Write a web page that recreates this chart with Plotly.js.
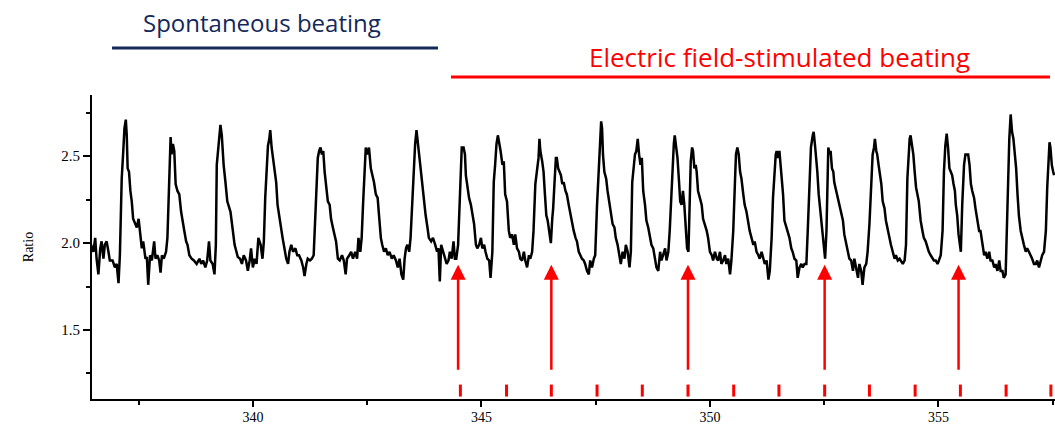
<!DOCTYPE html>
<html>
<head>
<meta charset="utf-8">
<script src="https://cdn.plot.ly/plotly-3.0.1.min.js"></script>
<style>
  html, body { margin: 0; padding: 0; background: #ffffff; }
  #chart { width: 1055px; height: 425px; }
</style>
</head>
<body>
<div id="chart"></div>
<script>
// ---- Data ----
// Time (s) of each sample of the Fura-2 ratio trace
const time = [
  336.46,336.51,336.55,336.58,336.62,336.66,336.69,336.73,336.76,336.80,
  336.84,336.87,336.93,336.98,337.02,337.06,337.09,337.13,337.16,337.19,
  337.22,337.24,337.26,337.29,337.32,337.35,337.38,337.42,337.46,337.50,
  337.53,337.57,337.60,337.65,337.68,337.71,337.75,337.79,337.84,337.87,
  337.91,337.95,337.98,338.01,338.05,338.10,338.13,338.16,338.19,338.20,
  338.22,338.25,338.28,338.31,338.35,338.39,338.43,338.46,338.50,338.54,
  338.57,338.61,338.66,338.71,338.77,338.83,338.87,338.91,338.96,339.00,
  339.04,339.07,339.12,339.16,339.19,339.21,339.25,339.29,339.32,339.36,
  339.40,339.44,
  339.51,339.56,339.60,339.64,339.67,339.72,339.76,339.80,339.85,339.89,
  339.93,339.96,340.00,340.04,340.08,340.12,340.17,340.21,340.24,340.27,
  340.30,340.33,340.36,340.38,340.41,340.44,340.47,340.51,340.54,340.58,
  340.61,340.65,340.69,340.73,340.77,340.80,340.84,340.88,340.93,340.97,
  341.01,341.06,341.10,341.13,341.17,341.20,341.25,341.29,341.33,341.36,
  341.39,341.42,341.45,341.48,341.51,341.54,341.57,341.61,341.64,341.68,
  341.71,341.75,341.79,341.82,341.86,341.90,341.95,341.99,342.03,342.06,
  342.11,342.15,342.19,342.24,342.28,342.31,342.35,342.38,342.41,342.44,
  342.47,342.51,342.54,342.58,342.62,342.65,342.69,342.73,342.76,342.80,
  342.83,342.87,342.91,342.95,342.99,343.04,343.08,343.13,343.17,343.21,
  343.25,343.29,343.32,343.35,343.38,343.42,343.45,343.49,343.52,343.55,
  343.58,343.60,343.62,343.65,343.68,343.71,343.75,343.78,343.82,343.85,
  343.90,343.94,343.99,344.03,344.06,344.09,344.12,344.16,344.20,344.24,
  344.28,344.31,344.35,344.39,344.42,344.45,344.49,344.53,344.55,344.57,
  344.61,344.64,344.66,344.69,344.73,344.77,344.80,344.84,344.88,344.91,
  344.95,344.99,345.02,345.06,345.09,345.13,345.17,345.20,345.24,345.27,
  345.30,345.33,345.36,345.39,345.42,345.46,
  345.49,345.52,345.56,345.60,345.63,345.67,345.71,345.74,345.78,345.82,
  345.85,345.89,345.93,345.96,346.00,346.04,346.07,346.11,346.14,346.18,
  346.22,346.25,346.27,346.29,346.33,346.36,346.39,346.42,346.45,346.49,
  346.52,346.55,346.57,346.60,346.63,346.65,346.68,346.71,346.74,346.77,
  346.80,346.84,346.87,346.91,346.95,346.98,347.02,347.06,347.09,347.13,
  347.16,347.20,347.24,347.27,347.31,347.35,347.38,347.42,347.46,347.49,
  347.53,347.57,347.59,347.62,347.64,347.66,347.69,347.73,347.76,347.80,
  347.83,347.87,347.91,347.94,347.98,348.02,348.05,348.09,348.13,348.16,
  348.20,348.24,348.27,348.30,348.33,348.36,348.39,348.42,348.45,348.48,
  348.51,348.54,348.58,348.61,348.65,348.69,348.72,348.76,348.80,348.83,
  348.87,348.91,348.94,348.98,349.02,349.05,349.09,349.12,349.16,349.19,
  349.21,349.23,349.26,349.29,349.32,349.35,349.38,349.41,349.44,349.47,
  349.50,349.53,349.55,349.58,349.61,349.63,349.66,349.69,349.71,349.74,
  349.78,349.82,349.85,349.89,349.93,349.96,350.00,350.04,350.07,350.11,
  350.15,350.18,350.22,350.25,350.29,350.33,350.36,350.40,350.44,350.47,
  350.51,350.55,350.57,350.60,350.63,350.66,350.69,350.73,350.76,350.80,
  350.84,350.87,350.91,350.95,350.98,351.02,351.06,351.09,351.13,351.17,
  351.20,351.24,351.28,351.31,351.35,351.38,351.41,351.44,351.46,351.49,
  351.52,351.56,351.60,351.63,351.67,351.70,351.74,351.78,351.81,351.85,
  351.89,351.92,351.96,352.00,352.03,352.07,352.11,352.14,352.18,352.21,
  352.25,352.27,352.30,352.32,352.35,352.38,352.41,352.44,352.47,352.50,
  352.52,352.55,352.57,352.59,352.62,352.64,352.67,352.70,352.72,352.76,
  352.80,352.83,352.87,352.91,352.94,352.98,353.02,353.05,353.09,353.13,
  353.16,353.20,353.24,353.27,353.31,353.34,353.38,353.42,353.45,353.49,
  353.53,353.56,353.59,353.61,353.64,353.66,353.69,353.72,353.75,353.78,
  353.82,353.85,353.89,353.93,353.96,354.00,354.04,354.07,354.11,354.15,
  354.18,354.22,354.26,354.29,354.32,354.35,354.37,354.39,354.42,354.45,
  354.48,354.51,
  354.57,354.61,354.65,354.68,354.72,354.76,354.79,354.83,354.87,354.90,
  354.94,354.98,355.01,355.05,355.09,355.12,355.15,355.18,355.21,355.24,
  355.27,355.30,355.33,355.36,355.38,355.41,355.44,355.47,355.49,355.52,
  355.54,355.56,355.59,355.62,355.65,355.68,355.71,355.74,355.78,355.81,
  355.85,355.89,355.92,355.96,356.00,356.03,356.07,356.11,356.14,356.18,
  356.22,356.25,356.29,356.33,356.36,356.40,356.43,356.47,356.49,356.52,
  356.55,356.58,356.61,356.64,356.67,356.70,356.73,356.76,356.80,356.84,
  356.87,356.91,356.94,356.98,357.02,357.05,357.09,357.13,357.16,357.20,
  357.24,357.27,357.31,357.35,357.38,357.41,357.43,357.45,357.48,357.51,357.53
];
// Ratio value of each sample
const ratio = [
  1.99,1.95,2.03,1.91,1.82,1.97,2.01,1.91,1.99,2.01,
  1.95,1.90,1.90,1.86,1.88,1.77,1.93,2.37,2.51,2.66,
  2.71,2.62,2.43,2.41,2.30,2.24,2.14,2.11,2.09,2.14,
  2.07,1.97,2.01,1.91,1.92,1.76,1.93,1.90,2.01,1.91,
  1.93,1.90,1.83,1.93,1.91,1.95,2.03,2.30,2.51,2.61,
  2.51,2.57,2.53,2.34,2.30,2.28,2.18,2.14,2.07,2.01,
  1.99,1.93,1.91,1.90,1.88,1.91,1.88,1.90,1.86,1.90,
  2.01,1.90,1.88,1.82,1.99,2.45,2.58,2.68,2.62,2.45,
  2.35,2.24,
  2.18,2.07,1.99,1.95,1.92,1.91,1.88,1.93,1.90,1.84,
  1.90,1.97,1.86,1.91,1.88,2.03,1.99,1.91,2.01,2.26,
  2.41,2.56,2.60,2.65,2.55,2.49,2.41,2.35,2.22,2.14,
  2.09,2.03,1.97,1.91,1.88,1.95,1.99,1.95,1.97,1.93,
  1.93,1.90,1.86,1.81,1.88,1.91,1.90,1.91,1.93,2.14,
  2.32,2.49,2.53,2.55,2.51,2.53,2.41,2.30,2.24,2.22,
  2.14,2.09,2.03,2.01,1.91,1.90,1.93,1.90,1.82,1.91,
  1.93,1.95,1.91,1.95,1.91,2.03,1.95,2.03,2.22,2.41,
  2.55,2.51,2.55,2.43,2.39,2.35,2.28,2.26,2.16,2.03,
  1.99,1.95,1.97,1.93,1.95,1.91,1.93,1.90,1.86,1.91,
  1.82,1.79,1.91,1.97,1.99,1.95,2.03,2.26,2.43,2.57,
  2.65,2.60,2.55,2.47,2.41,2.34,2.24,2.16,2.09,2.03,
  2.01,2.03,1.99,1.95,1.97,1.78,1.99,1.95,1.91,1.88,
  1.90,1.95,1.91,2.01,1.91,1.91,1.99,2.28,2.51,2.55,
  2.55,2.51,2.39,2.32,2.26,2.22,2.16,2.11,1.99,1.97,
  1.99,2.03,1.97,1.99,1.95,1.91,1.90,1.80,1.95,2.35,
  2.45,2.57,2.62,2.58,2.53,2.45,
  2.47,2.28,2.24,2.07,2.03,2.05,1.99,2.05,1.97,1.95,
  1.91,1.90,1.95,1.90,1.86,1.93,1.91,1.95,2.07,2.34,
  2.45,2.49,2.60,2.53,2.47,2.41,2.28,2.16,2.13,2.07,
  2.00,2.14,2.20,2.35,2.49,2.49,2.43,2.41,2.39,2.34,
  2.35,2.30,2.28,2.22,2.16,2.11,2.07,2.03,2.01,1.95,
  1.93,1.91,1.90,1.88,1.84,1.82,1.90,1.86,1.91,1.93,
  2.22,2.45,2.62,2.70,2.66,2.51,2.41,2.37,2.30,2.22,
  2.16,2.11,2.09,2.03,1.99,1.91,1.88,1.95,1.91,1.99,
  1.95,1.86,1.95,2.35,2.45,2.51,2.53,2.60,2.51,2.45,
  2.49,2.30,2.22,2.13,2.09,2.03,1.99,1.97,1.90,1.86,
  1.84,1.95,1.90,1.93,1.97,1.90,1.95,2.07,2.32,2.49,
  2.57,2.62,2.55,2.49,2.37,2.24,2.22,2.30,2.22,2.11,
  1.97,1.95,2.18,2.47,2.55,2.53,2.43,2.45,2.41,2.30,
  2.26,2.22,2.14,2.11,2.07,2.03,1.95,1.93,1.90,1.95,
  1.91,1.90,1.95,1.88,1.90,1.93,1.88,1.91,1.82,1.90,
  2.07,2.37,2.51,2.55,2.51,2.41,2.37,2.28,2.22,2.18,
  2.11,2.07,2.03,1.99,2.01,1.95,1.93,1.91,1.95,1.90,
  1.88,1.90,1.79,1.84,2.03,2.26,2.41,2.51,2.53,2.49,
  2.53,2.41,2.28,2.13,2.09,2.07,2.03,1.97,1.95,1.91,
  1.90,1.80,1.86,1.88,1.86,1.88,1.88,2.07,2.32,2.55,
  2.62,2.64,2.56,2.51,2.41,2.28,2.20,2.14,2.03,1.95,
  1.91,2.07,2.41,2.55,2.51,2.53,2.43,2.41,2.35,2.30,
  2.26,2.22,2.16,2.13,2.05,1.99,1.95,1.91,1.90,1.84,
  1.91,1.86,1.80,1.88,1.84,1.76,1.86,1.88,1.95,2.11,
  2.37,2.51,2.55,2.60,2.53,2.51,2.45,2.39,2.34,2.24,
  2.20,2.13,2.07,2.03,1.99,1.95,1.91,1.93,1.90,1.91,
  1.90,1.88,1.90,1.99,2.37,2.51,2.60,2.62,2.56,2.51,
  2.41,2.32,
  2.24,2.13,2.07,2.03,2.01,1.97,1.95,1.93,1.91,1.90,
  1.90,1.88,1.90,1.93,2.07,2.41,2.56,2.63,2.55,2.43,
  2.41,2.39,2.34,2.30,2.22,2.16,2.05,1.97,1.95,2.22,
  2.37,2.45,2.51,2.51,2.51,2.45,2.34,2.30,2.26,2.20,
  2.13,2.07,2.07,2.01,1.93,1.95,1.91,1.95,1.90,1.90,
  1.86,1.88,1.84,1.90,1.84,1.84,1.80,1.82,2.03,2.35,
  2.60,2.74,2.64,2.60,2.53,2.43,2.28,2.16,2.07,2.01,
  1.99,1.95,1.97,1.95,1.93,1.91,1.88,1.88,1.90,1.86,
  1.90,1.93,1.95,2.07,2.32,2.51,2.58,2.55,2.45,2.41,2.39
];
// Electric field stimulation pulses (s), ~1 Hz
const stimTimes = [344.54,345.55,346.53,347.53,348.52,349.52,350.52,351.51,352.51,353.49,354.49,355.48,356.48,357.46];
// Stimuli marked with an arrow (pulses that triggered a beat)
const arrowTimes = [344.49,346.53,349.52,352.51,355.44];
// Protocol phases
const phaseNames = ['Spontaneous beating', 'Electric field-stimulated beating'];
const phaseColors = ['#14285a', '#ff0000'];
// Axis ticks
const xTickVals = [340, 345, 350, 355];
const yTickVals = [1.5, 2.0, 2.5];
const yTickText = ['1.5', '2.0', '2.5'];

// ---- Build traces ----
const trace = {
  x: time, y: ratio, type: 'scatter', mode: 'lines',
  line: { color: '#000000', width: 2.5 },
  hoverinfo: 'skip', showlegend: false
};

// stimulus marks: short red dashes just above the time axis
const STIM_LOW = 1.117, STIM_HIGH = 1.186;
const sx = [], sy = [];
stimTimes.forEach(t => { sx.push(t, t, null); sy.push(STIM_LOW, STIM_HIGH, null); });
const stimTrace = {
  x: sx, y: sy, type: 'scatter', mode: 'lines',
  line: { color: '#ff0000', width: 3 },
  hoverinfo: 'skip', showlegend: false
};

const serif = 'Liberation Serif, Times New Roman, serif';
const headFont = 'Open Sans, Lato, sans-serif';

const annotations = arrowTimes.map(t => ({
  x: t, y: 1.875, xref: 'x', yref: 'y',
  ax: t, ay: 1.262, axref: 'x', ayref: 'y',
  showarrow: true, text: '', arrowhead: 2, arrowsize: 1.2,
  arrowwidth: 2.5, arrowcolor: '#ff0000', standoff: 0
}));

annotations.push(
  { text: phaseNames[0], xref: 'paper', yref: 'paper', x: 0.1765, y: 1.240,
    xanchor: 'center', yanchor: 'middle', showarrow: false,
    font: { family: headFont, size: 24, weight: 500, color: phaseColors[0] } },
  { text: phaseNames[1], xref: 'paper', yref: 'paper', x: 0.7144, y: 1.1247,
    xanchor: 'center', yanchor: 'middle', showarrow: false,
    font: { family: headFont, size: 26, weight: 500, color: phaseColors[1] } }
);

const shapes = [
  { type: 'line', xref: 'paper', yref: 'paper', x0: 0.0208, x1: 0.3593, y0: 1.1545, y1: 1.1545,
    line: { color: phaseColors[0], width: 3 } },
  { type: 'line', xref: 'paper', yref: 'paper', x0: 0.3728, x1: 0.9948, y0: 1.0592, y1: 1.0592,
    line: { color: phaseColors[1], width: 3 } }
];

const layout = {
  width: 1055, height: 425,
  margin: { l: 92, r: 0, t: 95, b: 26 },
  paper_bgcolor: '#ffffff', plot_bgcolor: '#ffffff',
  showlegend: false,
  xaxis: {
    range: [336.48, 357.55], showgrid: false, zeroline: false,
    showline: true, linecolor: '#000000', linewidth: 2,
    ticks: 'outside', ticklen: 6, tickwidth: 2, tickcolor: '#000000',
    tickvals: xTickVals, ticktext: xTickVals.map(String),
    ticklabelstandoff: -2,
    tickfont: { family: serif, size: 14, color: '#000000' },
    minor: { dtick: 2.5, tick0: 0, ticks: 'outside', ticklen: 4, tickwidth: 2, tickcolor: '#000000', showgrid: false }
  },
  yaxis: {
    range: [1.103, 2.852], showgrid: false, zeroline: false,
    showline: true, linecolor: '#000000', linewidth: 2,
    ticks: 'outside', ticklen: 7, tickwidth: 2, tickcolor: '#000000',
    tickvals: yTickVals, ticktext: yTickText,
    tickfont: { family: serif, size: 15, color: '#000000' },
    minor: { dtick: 0.25, tick0: 0, ticks: 'outside', ticklen: 4, tickwidth: 2, tickcolor: '#000000', showgrid: false },
    title: { text: 'Ratio', font: { family: serif, size: 14, color: '#000000' }, standoff: 24 }
  },
  annotations: annotations,
  shapes: shapes
};

Plotly.newPlot('chart', [trace, stimTrace], layout, { displayModeBar: false, staticPlot: true });
</script>
</body>
</html>
